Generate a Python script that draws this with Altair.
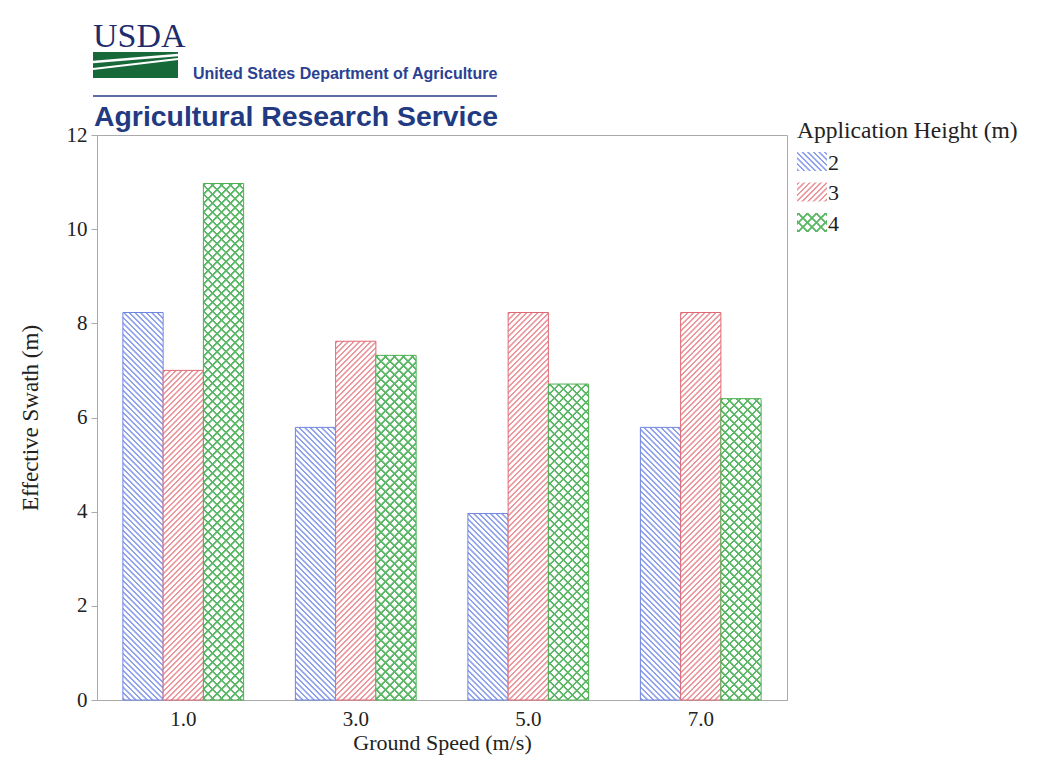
import altair as alt
import pandas as pd

# ---------------- data ----------------
speeds = ["1.0", "3.0", "5.0", "7.0"]
heights = ["2", "3", "4"]
swath_h2 = [8.23, 5.79, 3.96, 5.79]
swath_h3 = [7.0, 7.62, 8.23, 8.23]
swath_h4 = [10.97, 7.32, 6.71, 6.4]
y_ticks = [0, 2, 4, 6, 8, 10, 12]

x_title = "Ground Speed (m/s)"
y_title = "Effective Swath (m)"
legend_title = "Application Height (m)"
logo_word = ["USDA"]
dept_name = ["United States Department of Agriculture"]
service_name = ["Agricultural Research Service"]

# ---------------- layout / style ----------------
W, H = 690, 565
YMAX = 12
PAD_IN, PAD_OUT = 0.3, 0.15
SERIF = "Liberation Serif"
SANS = "Liberation Sans"

border = {"2": "#6f86e0", "3": "#e06a74", "4": "#4caf50"}
line_col = {"2": "#8fa1ea", "3": "#ea979e", "4": "#5cb866"}
hatch_dir = {"2": "\\", "3": "/"}
period = {"2": 5.6, "3": 5.6, "4": 9.0}
thick = {"2": 1.5, "3": 1.5, "4": 1.7}

rows = []
for vals, hgt in zip([swath_h2, swath_h3, swath_h4], heights):
    for s, v in zip(speeds, vals):
        rows.append({"speed": s, "height": hgt, "swath": v})
df = pd.DataFrame(rows)

step = W / (len(speeds) - PAD_IN + 2 * PAD_OUT)
bar_w = step * (1 - PAD_IN) / len(heights)
px_per_unit = H / YMAX


def hatch(w, h, direction, per, th, color, bg, ramp=0.7):
    L = w + h
    k = (w + h) / (w * w + h * h)
    if direction == "\\":
        x1, y1, x2, y2 = 0, 1, w * k, 1 - h * k
    else:
        x1, y1, x2, y2 = 0, 0, w * k, h * k
    stops = [alt.GradientStop(color=bg, offset=0)]
    n = int(L / per) + 2
    for i in range(n):
        u0 = i * per + 0.4
        for u, c in [(u0, bg), (u0 + ramp, color), (u0 + ramp + th, color), (u0 + 2 * ramp + th, bg)]:
            off = u / L
            if 0 < off < 1:
                stops.append(alt.GradientStop(color=c, offset=round(off, 5)))
    stops.append(alt.GradientStop(color=bg, offset=1))
    return alt.LinearGradient(gradient="linear", stops=stops,
                              x1=round(x1, 5), y1=round(y1, 5), x2=round(x2, 5), y2=round(y2, 5))


GREEN_T = "rgba(92,184,102,0)"

base = alt.Chart(df).encode(
    x=alt.X("speed:N", title=x_title,
            scale=alt.Scale(domain=speeds, paddingInner=PAD_IN, paddingOuter=PAD_OUT),
            axis=alt.Axis(labelAngle=0, ticks=False, labelPadding=8, titlePadding=3,
                          labelFontSize=21, titleFontSize=22)),
    xOffset=alt.XOffset("height:N", scale=alt.Scale(domain=heights, paddingInner=0, paddingOuter=0)),
    y=alt.Y("swath:Q", title=y_title, scale=alt.Scale(domain=[0, YMAX], nice=False),
            axis=alt.Axis(values=y_ticks, grid=False, tickSize=6, labelPadding=4, titlePadding=24,
                          labelFontSize=21, titleFontSize=23)),
)

layers = []
for r in rows:
    h_px = r["swath"] * px_per_unit
    flt = (alt.datum.speed == r["speed"]) & (alt.datum.height == r["height"])
    hg = r["height"]
    if hg in hatch_dir:
        g = hatch(bar_w, h_px, hatch_dir[hg], period[hg], thick[hg], line_col[hg], "#ffffff")
        layers.append(base.transform_filter(flt).mark_bar(fill=g, stroke=border[hg], strokeWidth=1))
    else:
        g1 = hatch(bar_w, h_px, "/", period[hg], thick[hg], line_col[hg], "#ffffff")
        g2 = hatch(bar_w, h_px, "\\", period[hg], thick[hg], line_col[hg], GREEN_T)
        layers.append(base.transform_filter(flt).mark_bar(fill=g1, strokeWidth=0))
        layers.append(base.transform_filter(flt).mark_bar(fill=g2, stroke=border[hg], strokeWidth=1))

# ---------------- legend (manual, patterned swatches) ----------------
one = pd.DataFrame({"k": [0]})
LX, LW, LH, LSTEP, LY0 = 700, 30, 19, 30.5, 17
layers.append(alt.Chart(pd.DataFrame({"t": [legend_title]})).mark_text(
    font=SERIF, fontSize=23.5, align="left", baseline="middle", color="#222").encode(
    text="t:N", x=alt.value(LX), y=alt.value(-4)))
for i, hg in enumerate(heights):
    y0 = LY0 + i * LSTEP
    pos = dict(x=alt.value(LX), x2=alt.value(LX + LW), y=alt.value(y0), y2=alt.value(y0 + LH))
    if hg in hatch_dir:
        g = hatch(LW, LH, hatch_dir[hg], period[hg], thick[hg], line_col[hg], "#ffffff")
        layers.append(alt.Chart(one).mark_rect(fill=g).encode(**pos))
    else:
        g1 = hatch(LW, LH, "/", period[hg], thick[hg], line_col[hg], "#ffffff")
        g2 = hatch(LW, LH, "\\", period[hg], thick[hg], line_col[hg], GREEN_T)
        layers.append(alt.Chart(one).mark_rect(fill=g1).encode(**pos))
        layers.append(alt.Chart(one).mark_rect(fill=g2).encode(**pos))
    layers.append(alt.Chart(pd.DataFrame({"t": [hg]})).mark_text(
        font=SERIF, fontSize=22, align="left", baseline="middle", color="#222").encode(
        text="t:N", x=alt.value(LX + LW + 1), y=alt.value(y0 + LH / 2 + 1)))

# ---------------- header (USDA / ARS identity) ----------------
layers.append(alt.Chart(pd.DataFrame({"t": logo_word})).mark_text(
    font=SERIF, fontSize=34, align="left", baseline="alphabetic", color="#1d2c6b").encode(
    text="t:N", x=alt.value(-4), y=alt.value(-88)))
layers.append(alt.Chart(one).mark_rect(color="#18693a").encode(
    x=alt.value(-4), x2=alt.value(81), y=alt.value(-83), y2=alt.value(-57)))
layers.append(alt.Chart(one).mark_rule(color="white", strokeWidth=2.5).encode(
    x=alt.value(-4), x2=alt.value(81), y=alt.value(-73), y2=alt.value(-80)))
layers.append(alt.Chart(one).mark_rule(color="white", strokeWidth=2).encode(
    x=alt.value(-4), x2=alt.value(81), y=alt.value(-66), y2=alt.value(-76)))
layers.append(alt.Chart(pd.DataFrame({"t": dept_name})).mark_text(
    font=SANS, fontSize=16, fontWeight="bold", align="left", baseline="middle", color="#2b4191").encode(
    text="t:N", x=alt.value(96), y=alt.value(-61)))
layers.append(alt.Chart(one).mark_rule(color="#5d6da3", strokeWidth=2).encode(
    x=alt.value(-4), x2=alt.value(400), y=alt.value(-39), y2=alt.value(-39)))
layers.append(alt.Chart(pd.DataFrame({"t": service_name})).mark_text(
    font=SANS, fontSize=28.4, fontWeight="bold", align="left", baseline="middle", color="#213a82").encode(
    text="t:N", x=alt.value(-3), y=alt.value(-18)))

chart = alt.layer(*layers).properties(
    width=W, height=H,
    padding={"left": 11, "top": 12, "right": 5, "bottom": 5},
).configure(background="white").configure_view(
    stroke="#aaaaaa", strokeWidth=1
).configure_axis(
    labelFont=SERIF, titleFont=SERIF,
    titleFontWeight="normal", labelColor="#222222", titleColor="#222222",
    domainColor="#aaaaaa", tickColor="#aaaaaa",
)

chart.save("out.html", embed_options={"renderer": "svg", "actions": False})
